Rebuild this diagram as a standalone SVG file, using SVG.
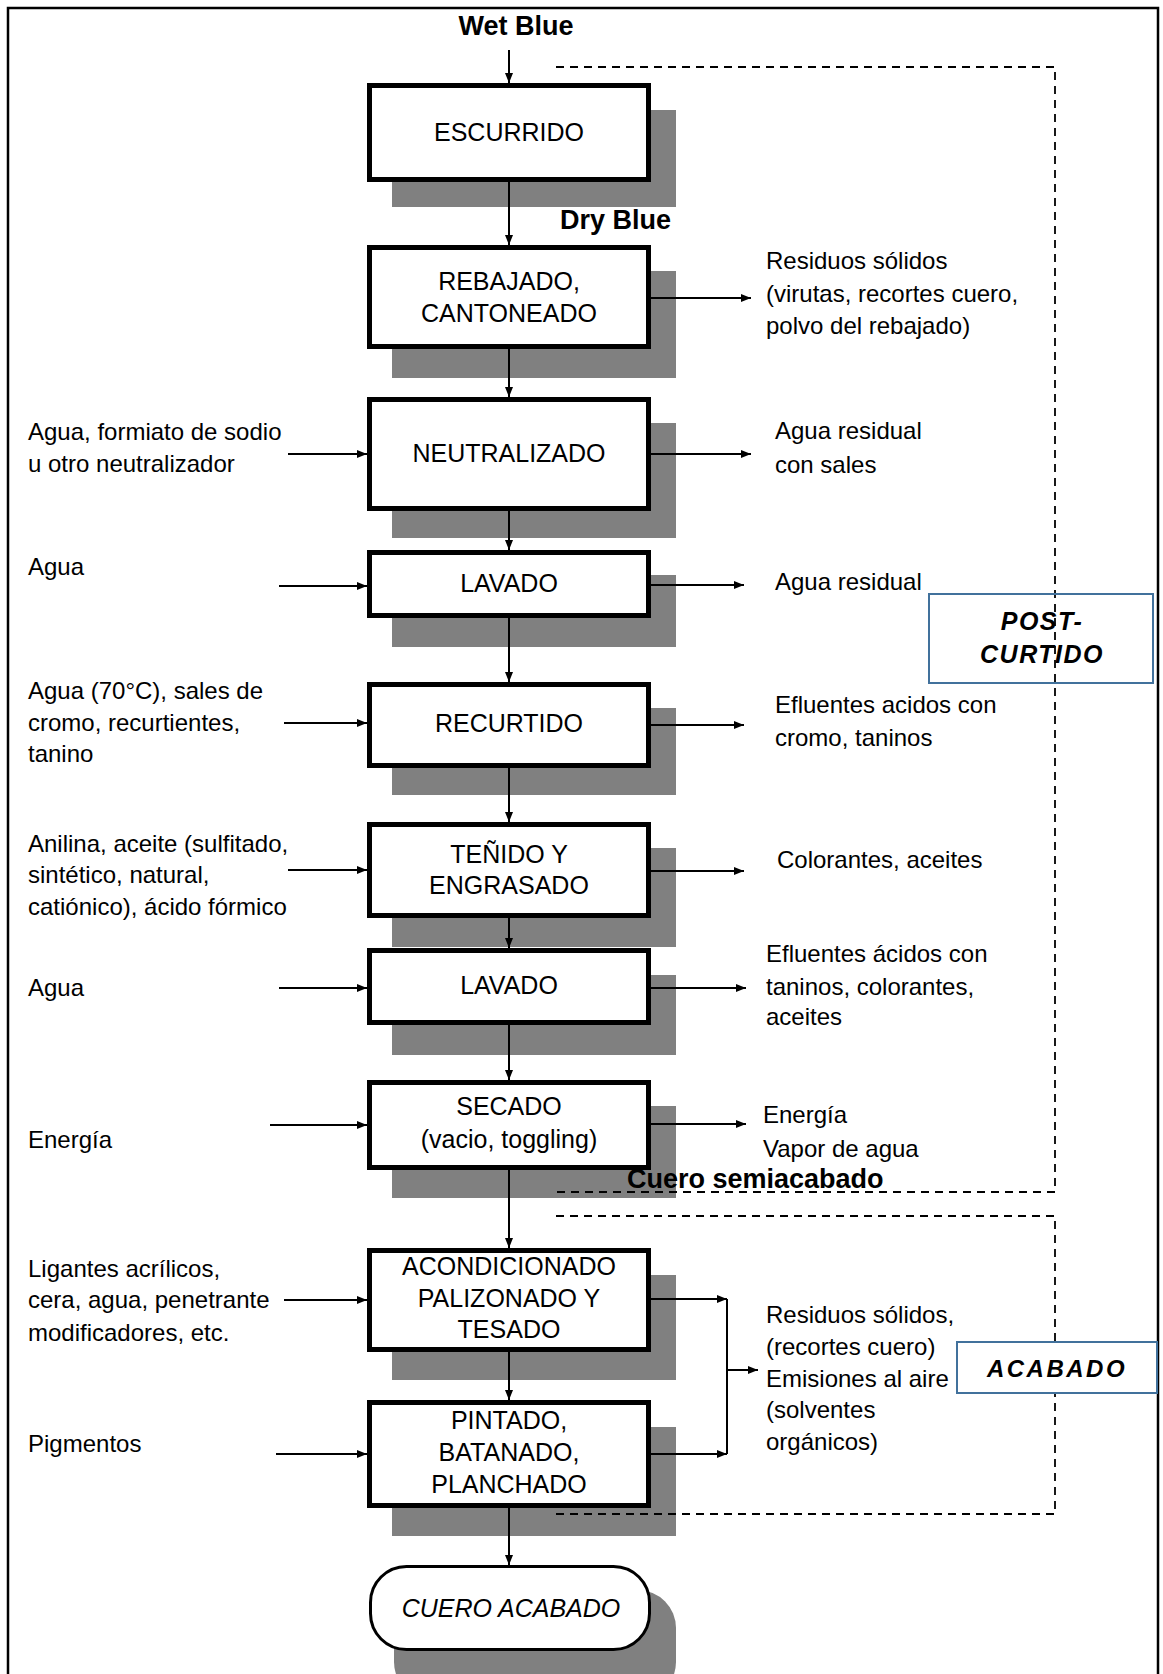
<svg xmlns="http://www.w3.org/2000/svg" width="1163" height="1674" viewBox="0 0 1163 1674">
<defs>
<marker id="ah" markerWidth="10" markerHeight="8" refX="10" refY="4" orient="auto" markerUnits="userSpaceOnUse"><path d="M0,0 L10,4 L0,8 Z" fill="#000"/></marker>
<style>
.t{font-family:"Liberation Sans",Arial,sans-serif;font-size:24px;fill:#000}
.c{text-anchor:middle;font-size:25px}
.b{font-family:"Liberation Sans",Arial,sans-serif;font-size:27px;font-weight:bold;fill:#000}
.lb{font-family:"Liberation Sans",Arial,sans-serif;font-weight:bold;font-style:italic;fill:#000;text-anchor:middle}
.box{fill:#fff;stroke:#000;stroke-width:5}
.sh{fill:#808080}
.ln{stroke:#000;stroke-width:2;fill:none}
.ar{stroke:#000;stroke-width:2;fill:none;marker-end:url(#ah)}
.dash{stroke:#000;stroke-width:1.8;fill:none;stroke-dasharray:8 6}
.tag{fill:none;stroke:#41719C;stroke-width:2}
</style>
</defs>
<rect x="0" y="0" width="1163" height="1674" fill="#fff"/>
<rect x="8" y="8" width="1150" height="1670" fill="none" stroke="#000" stroke-width="2.5"/>

<g id="n-escurrido">
<rect class="sh" x="392" y="110" width="284" height="97"/>
<rect class="box" x="369.5" y="85.5" width="279" height="94"/>
<text class="t c" x="509" y="141">ESCURRIDO</text>
</g>
<g id="n-rebajado">
<rect class="sh" x="392" y="271" width="284" height="107"/>
<rect class="box" x="369.5" y="247.5" width="279" height="99"/>
<text class="t c" x="509" y="290">REBAJADO,</text>
<text class="t c" x="509" y="322">CANTONEADO</text>
</g>
<g id="n-neutralizado">
<rect class="sh" x="392" y="423" width="284" height="115"/>
<rect class="box" x="369.5" y="399.5" width="279" height="109"/>
<text class="t c" x="509" y="462">NEUTRALIZADO</text>
</g>
<g id="n-lavado1">
<rect class="sh" x="392" y="575" width="284" height="72"/>
<rect class="box" x="369.5" y="552.5" width="279" height="63"/>
<text class="t c" x="509" y="592">LAVADO</text>
</g>
<g id="n-recurtido">
<rect class="sh" x="392" y="708" width="284" height="87"/>
<rect class="box" x="369.5" y="684.5" width="279" height="81"/>
<text class="t c" x="509" y="732">RECURTIDO</text>
</g>
<g id="n-tenido">
<rect class="sh" x="392" y="848" width="284" height="99"/>
<rect class="box" x="369.5" y="824.5" width="279" height="91"/>
<text class="t c" x="509" y="863">TEÑIDO Y</text>
<text class="t c" x="509" y="894">ENGRASADO</text>
</g>
<g id="n-lavado2">
<rect class="sh" x="392" y="975" width="284" height="80"/>
<rect class="box" x="369.5" y="950.5" width="279" height="72"/>
<text class="t c" x="509" y="994">LAVADO</text>
</g>
<g id="n-secado">
<rect class="sh" x="392" y="1106" width="284" height="92"/>
<rect class="box" x="369.5" y="1082.5" width="279" height="85"/>
<text class="t c" x="509" y="1115">SECADO</text>
<text class="t c" x="509" y="1148">(vacio, toggling)</text>
</g>
<g id="n-acondicionado">
<rect class="sh" x="392" y="1275" width="284" height="105"/>
<rect class="box" x="369.5" y="1250.5" width="279" height="99"/>
<text class="t c" x="509" y="1275">ACONDICIONADO</text>
<text class="t c" x="509" y="1307">PALIZONADO Y</text>
<text class="t c" x="509" y="1338">TESADO</text>
</g>
<g id="n-pintado">
<rect class="sh" x="392" y="1427" width="284" height="109"/>
<rect class="box" x="369.5" y="1402.5" width="279" height="103"/>
<text class="t c" x="509" y="1429">PINTADO,</text>
<text class="t c" x="509" y="1461">BATANADO,</text>
<text class="t c" x="509" y="1493">PLANCHADO</text>
</g>
<g id="n-cuero">
<rect class="sh" x="394" y="1590" width="282" height="110" rx="38" ry="38"/>
<rect x="370.5" y="1566.5" width="279" height="83" rx="36" ry="36" fill="#fff" stroke="#000" stroke-width="3"/>
<text class="t c" x="511" y="1617" style="font-style:italic;font-size:25px">CUERO ACABADO</text>
</g>

<g id="regions">
<path class="dash" d="M556,67 H1055 V1192 H556"/>
<path class="dash" d="M556,1216 H1055 V1514 H556"/>
</g>

<g id="labels">
<text class="b" x="516" y="35" text-anchor="middle">Wet Blue</text>
<text class="b" x="560" y="229">Dry Blue</text>
<text class="b" x="627" y="1188">Cuero semiacabado</text>
</g>

<g id="inputs">
<text class="t" x="28" y="440">Agua, formiato de sodio</text>
<text class="t" x="28" y="472">u otro neutralizador</text>
<text class="t" x="28" y="575">Agua</text>
<text class="t" x="28" y="699">Agua (70°C), sales de</text>
<text class="t" x="28" y="731">cromo, recurtientes,</text>
<text class="t" x="28" y="762">tanino</text>
<text class="t" x="28" y="852">Anilina, aceite (sulfitado,</text>
<text class="t" x="28" y="883">sintético, natural,</text>
<text class="t" x="28" y="915">catiónico), ácido fórmico</text>
<text class="t" x="28" y="996">Agua</text>
<text class="t" x="28" y="1148">Energía</text>
<text class="t" x="28" y="1277">Ligantes acrílicos,</text>
<text class="t" x="28" y="1308">cera, agua, penetrante</text>
<text class="t" x="28" y="1341">modificadores, etc.</text>
<text class="t" x="28" y="1452">Pigmentos</text>
</g>

<g id="outputs">
<text class="t" x="766" y="269">Residuos sólidos</text>
<text class="t" x="766" y="302">(virutas, recortes cuero,</text>
<text class="t" x="766" y="334">polvo del rebajado)</text>
<text class="t" x="775" y="439">Agua residual</text>
<text class="t" x="775" y="473">con sales</text>
<text class="t" x="775" y="590">Agua residual</text>
<text class="t" x="775" y="713">Efluentes acidos con</text>
<text class="t" x="775" y="746">cromo, taninos</text>
<text class="t" x="777" y="868">Colorantes, aceites</text>
<text class="t" x="766" y="962">Efluentes ácidos con</text>
<text class="t" x="766" y="995">taninos, colorantes,</text>
<text class="t" x="766" y="1025">aceites</text>
<text class="t" x="763" y="1123">Energía</text>
<text class="t" x="763" y="1157">Vapor de agua</text>
<text class="t" x="766" y="1323">Residuos sólidos,</text>
<text class="t" x="766" y="1355">(recortes cuero)</text>
<text class="t" x="766" y="1387">Emisiones al aire</text>
<text class="t" x="766" y="1418">(solventes</text>
<text class="t" x="766" y="1450">orgánicos)</text>
</g>

<g id="tag-postcurtido">
<rect class="tag" x="929" y="594" width="224" height="89"/>
<text class="lb" x="1042" y="630" style="font-size:25px;letter-spacing:1.5px">POST-</text>
<text class="lb" x="1042" y="663" style="font-size:25px;letter-spacing:1.5px">CURTIDO</text>
</g>
<g id="tag-acabado">
<rect x="957" y="1342" width="200" height="51" fill="#fff" stroke="#41719C" stroke-width="2"/>
<text class="lb" x="1057" y="1377" style="font-size:24px;letter-spacing:2.5px">ACABADO</text>
</g>

<g id="connectors">
<line class="ar" x1="509" y1="50" x2="509" y2="83"/>
<line class="ar" x1="509" y1="182" x2="509" y2="245"/>
<line class="ar" x1="509" y1="349" x2="509" y2="397"/>
<line class="ar" x1="509" y1="511" x2="509" y2="550"/>
<line class="ar" x1="509" y1="618" x2="509" y2="682"/>
<line class="ar" x1="509" y1="768" x2="509" y2="822"/>
<line class="ar" x1="509" y1="918" x2="509" y2="948"/>
<line class="ar" x1="509" y1="1025" x2="509" y2="1080"/>
<line class="ar" x1="509" y1="1170" x2="509" y2="1248"/>
<line class="ar" x1="509" y1="1352" x2="509" y2="1400"/>
<line class="ar" x1="509" y1="1508" x2="509" y2="1565"/>

<line class="ar" x1="288" y1="454" x2="367" y2="454"/>
<line class="ar" x1="279" y1="586" x2="367" y2="586"/>
<line class="ar" x1="284" y1="723" x2="367" y2="723"/>
<line class="ar" x1="288" y1="870" x2="367" y2="870"/>
<line class="ar" x1="279" y1="988" x2="367" y2="988"/>
<line class="ar" x1="270" y1="1125" x2="367" y2="1125"/>
<line class="ar" x1="284" y1="1300" x2="367" y2="1300"/>
<line class="ar" x1="276" y1="1454" x2="367" y2="1454"/>

<line class="ar" x1="651" y1="298" x2="751" y2="298"/>
<line class="ar" x1="651" y1="454" x2="751" y2="454"/>
<line class="ar" x1="651" y1="585" x2="744" y2="585"/>
<line class="ar" x1="651" y1="725" x2="744" y2="725"/>
<line class="ar" x1="651" y1="871" x2="744" y2="871"/>
<line class="ar" x1="651" y1="988" x2="746" y2="988"/>
<line class="ar" x1="651" y1="1124" x2="746" y2="1124"/>
<line class="ar" x1="651" y1="1299" x2="727" y2="1299"/>
<line class="ar" x1="651" y1="1454" x2="727" y2="1454"/>
<line class="ln" x1="727" y1="1299" x2="727" y2="1454"/>
<line class="ar" x1="727" y1="1370" x2="758" y2="1370"/>
</g>
</svg>
